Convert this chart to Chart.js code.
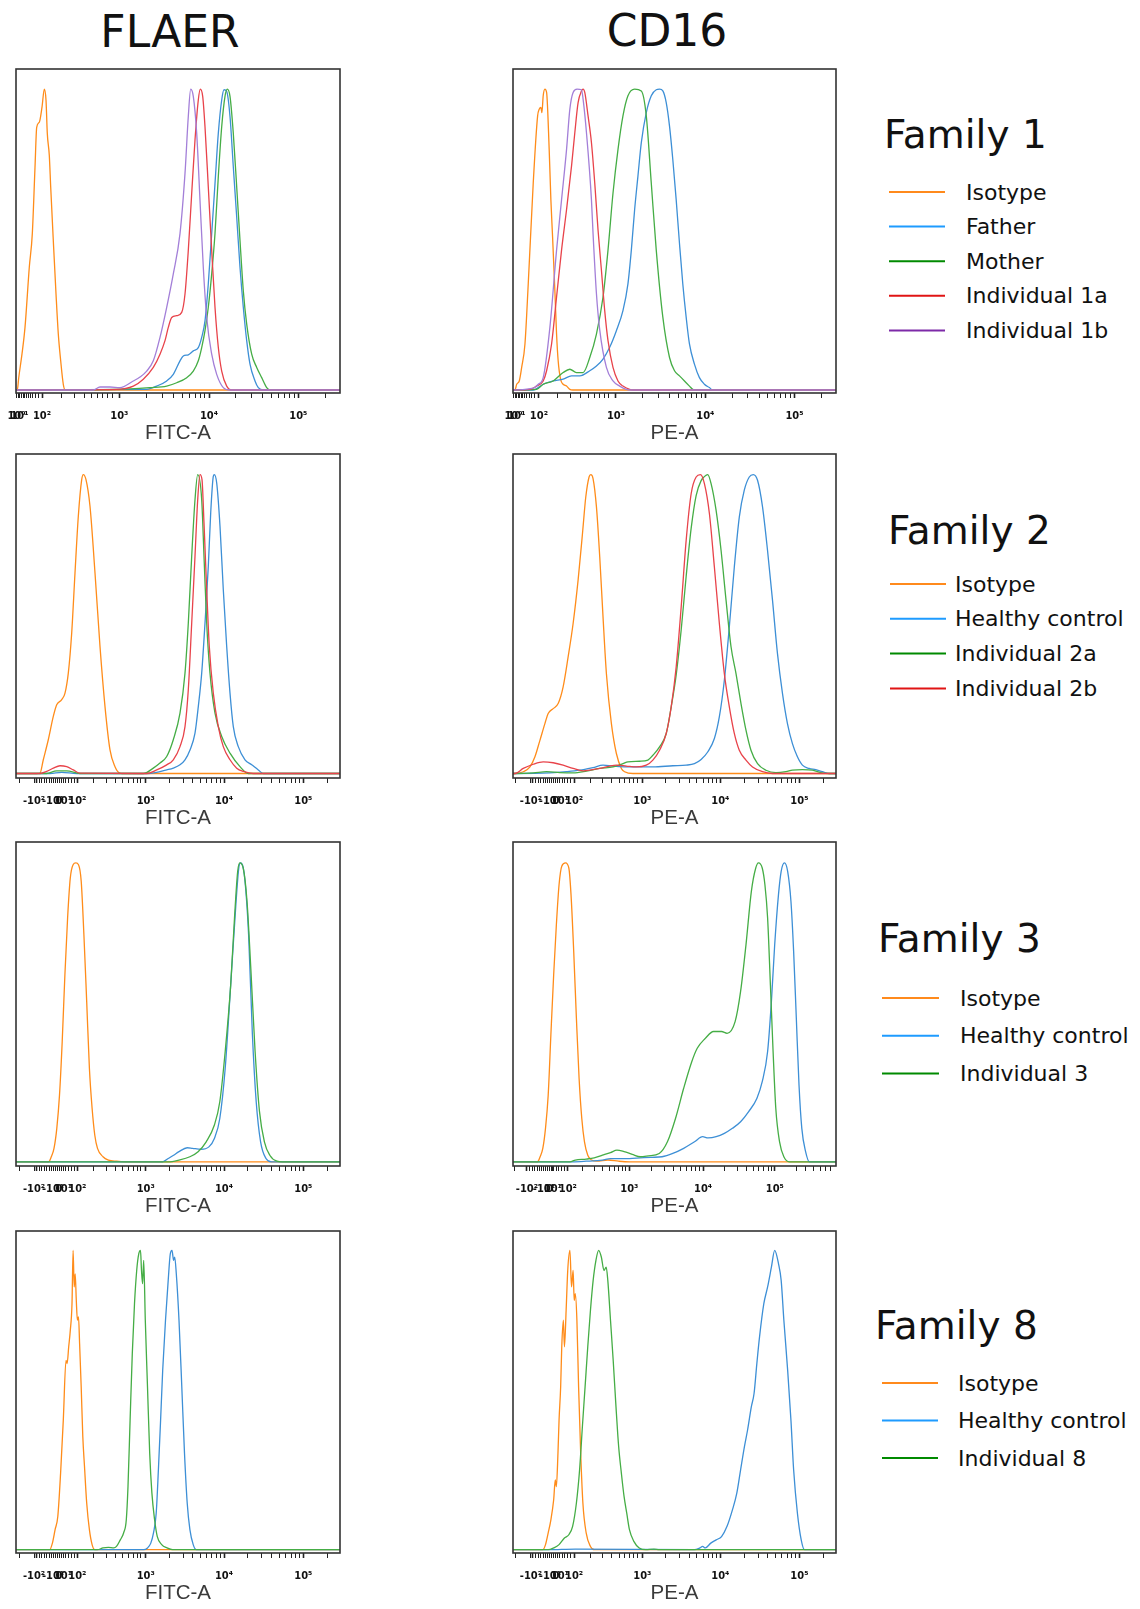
<!DOCTYPE html>
<html>
<head>
<meta charset="utf-8">
<script src="https://cdn.jsdelivr.net/npm/chart.js@4.4.1/dist/chart.umd.min.js"></script>
<style>
  html, body { margin: 0; padding: 0; background: #fff; }
  #page { position: relative; width: 1140px; height: 1609px; overflow: hidden; background: #fff; }
  #page canvas, #page svg { position: absolute; }
</style>
</head>
<body>
<div id="page"></div>
<script>
// Eje x: posición de visualización (canales 0..324 a lo largo de cada caja)
const AXIS_LEN = 324;

// ---- ticks de los ejes (fila 1)
const axisAMajor = [26, 103.3, 193, 282.3];
const axisAMinor = [2.5, 5.5, 7, 8.5, 10, 12, 14, 16.5, 19, 22, 45, 58, 68, 75.7, 81.7, 86.7, 91.3, 96,
  130.3, 146.1, 157.3, 166, 173.1, 179.1, 184.3, 188.9, 219.9, 235.6, 246.8, 255.4, 262.5, 268.5, 273.6, 278.2, 309.2];
const axisALabelPos = [0.5, 3.5, 26, 103.3, 193, 282.3];
const axisALabelText = ['10⁰', '10¹', '10²', '10³', '10⁴', '10⁵'];

// ---- ticks biexponenciales (filas 2-4)
const axisBMajor = [20, 61.3, 129.7, 208, 287.3];
const axisBMinor = [3, 23, 25.5, 28, 30.5, 33, 35, 37, 39, 41, 43, 45, 47, 49.5, 52, 55, 58,
  77.3, 90, 99, 106.7, 112.3, 117.3, 121.3, 124.7, 153.3, 167.1, 176.8, 184.4, 190.6, 195.9, 200.4, 204.4,
  231.9, 245.8, 255.7, 263.4, 269.7, 275, 279.6, 283.7, 311.2];
const axisBLabelPos = [18, 37, 43, 47, 61.3, 129.7, 208, 287.3];
const axisBLabelText = ['-10²', '-10¹', '0', '10¹', '10²', '10³', '10⁴', '10⁵'];

// ---- ticks del panel CD16 familia 3
const axisCMajor = [14, 55, 116.7, 190.7, 262.7];
const axisCMinor = [1.7, 17, 19.5, 22, 24.5, 27, 29, 31, 33, 35, 36.7, 38.5, 41, 43.5, 46, 49, 52,
  70, 81.7, 90, 96.7, 101.7, 106, 110, 113.3, 139, 152, 161.2, 168.4, 174.3, 179.2, 183.5, 187.3,
  212.4, 225.1, 234.1, 241, 246.7, 251.6, 255.8, 259.5, 284.4, 293.4, 301.7, 308.4, 313.4, 318.4];
const axisCLabelPos = [14, 31, 36.7, 40, 55, 116.7, 190.7, 262.7];
const axisCLabelText = ['-10²', '-10¹', '0', '10¹', '10²', '10³', '10⁴', '10⁵'];

// ---- nombres de series
const family1Names = ['Isotype', 'Father', 'Mother', 'Individual 1a', 'Individual 1b'];
const family2Names = ['Isotype', 'Healthy control', 'Individual 2a', 'Individual 2b'];
const family3Names = ['Isotype', 'Healthy control', 'Individual 3'];
const family8Names = ['Isotype', 'Healthy control', 'Individual 8'];
const familyTitles = ['Family 1', 'Family 2', 'Family 3', 'Family 8'];

// ---- histogramas: [posición en el eje, % del modo]
// Familia 1, FLAER
const fam1FlaerIsotype = [[0,0],[1.3,0],[2.7,4],[6,12],[9,20.8],[13.3,40.8],[16.3,51.9],[19,74],[20.7,87.3],[23.3,89],[26,94],[28.3,100],[30,96.4],[31.3,85.3],[33.3,78],[34.7,67.5],[37.3,49.7],[40,32],[42.3,18.6],[44.7,9.7],[47.3,1.9],[49.3,0],[324,0]];
const fam1FlaerFather = [[0,0],[130.7,0.2],[140.7,1.3],[150.7,3],[157.3,5.2],[164,9.7],[167.3,11.3],[172.3,11.7],[177.3,13],[182.3,14.1],[185.7,17.5],[189,23],[192.3,35.3],[195.7,52],[199,68.6],[202.3,85.3],[205.7,96.4],[208,99.8],[210.7,99.2],[214,90.9],[217.3,74.2],[220.7,57.5],[224,40.8],[227.3,27.5],[230.7,16.4],[234,8.6],[239,3],[242.3,0.8],[247.3,0],[324,0]];
const fam1FlaerMother = [[0,0],[100.7,0.2],[134,0.8],[150.7,1.3],[160.7,2.4],[170.7,4.1],[177.3,6.3],[182.3,9.7],[185.7,14.1],[189,19.7],[192.3,27.5],[195.7,38.6],[199,52],[202.3,70.9],[205.7,87.5],[209,97.6],[211.3,100],[214,97.6],[217.3,85.3],[220.7,67.5],[224,49.7],[227.3,33],[230.7,21.9],[235.7,11.9],[240.7,7.5],[245.7,4.1],[250.7,0.8],[254,0],[324,0]];
const fam1FlaerInd1a = [[0,0],[100.7,0.2],[117.3,1.3],[127.3,3.6],[137.3,7.5],[144,11.9],[149,16.4],[152.3,20.8],[155.7,24.1],[160.7,24.7],[165.7,25.8],[169,31.9],[172.3,46.4],[175.7,65.3],[179,83.1],[182.3,96.4],[184.3,100],[186.7,97.6],[189,87.5],[192.3,67.5],[195.7,46.4],[199,27.5],[202.3,14.2],[205.7,6.3],[210.7,1.3],[215.7,0],[324,0]];
const fam1FlaerInd1b = [[0,0],[77.3,0],[84,1],[94,1],[104,0.8],[117.3,3],[124,4.3],[130.7,6.3],[137.3,9.7],[144,17.5],[150.7,27.5],[157.3,38.6],[164,52],[169,72],[172.3,90.9],[174.7,100],[177.3,97.6],[180.7,85.3],[184,63],[187.3,40.8],[190.7,24.1],[195.7,11.9],[200.7,5.2],[207.3,0.8],[214,0],[324,0]];

// Familia 1, CD16
const fam1Cd16Isotype = [[0,0],[2,0],[3.7,1.9],[6.3,3],[8.7,7.5],[12,15.3],[15.3,35.3],[20.3,68.8],[24.7,91.1],[26.3,93.3],[28,93.9],[29,92.2],[30.3,97.8],[32,100],[33.7,98.9],[36.3,79.9],[38,63.2],[39.7,50.9],[42,33.1],[43.7,18.6],[45.3,9.7],[47.7,3.6],[50.3,1.9],[53.7,1.3],[57,0.2],[60,0],[324,0]];
const fam1Cd16Father = [[0,0],[20.3,0],[30.3,1.9],[40.3,3],[50.3,3.6],[58.7,4.7],[67,4.7],[77,6.4],[83.7,8],[90.3,10.3],[97,14.2],[103.7,19.7],[110.3,26.4],[115.3,35.3],[118.7,46.5],[122,59.9],[125.3,71],[128.7,82.2],[133.7,92.2],[138.7,97.8],[143.7,99.8],[147,100],[150.3,99.4],[153.7,95.5],[157,87.7],[160.3,76.6],[163.7,63.2],[167,48.7],[170.3,35.3],[173.7,24.2],[177,15.3],[182,8.6],[187,4.1],[192,1.9],[197,0.8],[200.3,0],[324,0]];
const fam1Cd16Mother = [[0,0],[23.7,0.2],[30.3,1.9],[40.3,3],[50.3,5.8],[57,6.9],[63.7,5.8],[70.3,5.8],[77,10.8],[83.7,18.6],[90.3,30.9],[95.3,46.5],[100.3,65.4],[105.3,79.9],[110.3,91.1],[115.3,97.8],[122,100],[128.7,99.4],[133.7,91.1],[138.7,68.8],[143.7,46.5],[150.3,24.2],[157,10.8],[162,6.4],[167,4.7],[172,3],[177,1.3],[180.3,0.2],[183,0],[324,0]];
const fam1Cd16Ind1a = [[0,0],[17,0.2],[23.7,1.3],[30.3,3],[33.7,6.4],[38.7,15.3],[43.7,30.9],[48.7,46.5],[53.7,59.9],[58.7,74.4],[62,85.5],[65.3,95.5],[68.7,99.4],[70.3,100],[72,98.9],[75.3,91.1],[78.7,82.2],[82,68.8],[85.3,53.2],[88.7,39.8],[92,26.4],[95.3,16.4],[100.3,7.5],[105.3,3],[110.3,1.3],[117,0.2],[120,0],[324,0]];
const fam1Cd16Ind1b = [[0,0],[20.3,0.6],[25.3,1.9],[30.3,4.1],[37,20.8],[43.7,46.5],[48.7,63.2],[53.7,79.9],[57,93.3],[60.3,98.9],[64.3,100],[68.7,99.8],[70.3,96.7],[73.7,85.5],[78.7,63.2],[80.3,52],[83.7,32],[87,20],[93.7,7.5],[100.3,3],[107,1.3],[113.7,0.2],[117,0],[324,0]];

// Familia 2, FLAER
const fam2FlaerIsotype = [[0,0],[20.7,0],[24,0.1],[27.3,4.6],[32.3,11.3],[37.3,19.1],[40.7,23],[45.7,24.7],[49,26.9],[52.3,33.6],[55.7,47],[59,67.1],[62.3,86],[65.7,98.3],[67.3,100],[70,98.3],[74,89.4],[79,67.1],[84,42.5],[89,22.4],[94,7.9],[99,2.3],[104,0.1],[106,0],[324,0]];
const fam2FlaerHealthy = [[0,0],[34,0],[45.7,0.4],[60.7,0],[130.7,0],[140.7,0.4],[150.7,1.2],[157.3,1.8],[164,2.9],[169,4.6],[174,7.9],[179,13.5],[182.3,22.4],[185.7,33.6],[189,50.3],[192.3,69.3],[194.7,87.2],[197.3,99.4],[198.3,100],[200.7,97.2],[204,82.7],[207.3,61.5],[210.7,42.5],[214,26.9],[217.3,15.7],[222.3,9],[229,4.6],[235.7,2.9],[242.3,1.2],[247.3,0],[324,0]];
const fam2FlaerInd2a = [[0,0],[30.7,0],[40.7,0.9],[50.7,0.9],[64,0],[127.3,0],[137.3,1.8],[144,3.5],[150.7,5.7],[157.3,11.3],[164,20.2],[169,33.6],[172.3,50.3],[175.7,72.7],[179,91.6],[181.7,100],[185.7,91.6],[188,72.7],[190.7,50.3],[194,33.6],[199,20.2],[205.7,12.4],[214,6.8],[224,2.3],[232.3,0],[324,0]];
const fam2FlaerInd2b = [[0,0],[24,0],[30.7,0.7],[37.3,1.8],[44,2.6],[50.7,2.3],[57.3,1.2],[64,0.1],[130.7,0],[140.7,1.2],[150.7,2.9],[157.3,4.6],[164,9],[169,15.7],[172.3,28],[175.7,50.3],[179,72.7],[181.7,91.6],[184,100],[186,98.3],[188,83.8],[190.7,61.5],[193.3,42.5],[197.3,26.9],[202.3,15.7],[207.3,9],[214,4.6],[220.7,1.8],[227.3,0.7],[237.3,0],[324,0]];

// Familia 2, CD16
const fam2Cd16Isotype = [[0,0],[2,0],[10.3,0.6],[17,2.2],[22,5.6],[27,11.1],[32,16.7],[35.3,20.1],[40.3,21.7],[45.3,23.4],[50.3,29],[55.3,39],[60.3,50.2],[65.3,64.7],[69.7,80.3],[73,92.5],[76.3,99.2],[78,100],[80.3,98.7],[83.7,89.2],[87,72.5],[90.3,52.4],[93.7,33.4],[98.7,16.7],[103.7,6.7],[108.7,1.7],[112,0.6],[120.3,0],[324,0]];
const fam2Cd16Healthy = [[0,0],[2,0],[37,0.2],[53.7,0.6],[67,1.1],[80.3,2],[90.3,2.8],[100.3,2.5],[120.3,2.2],[140.3,2.2],[160.3,2.6],[173.7,2.8],[182,3.3],[188.7,4.7],[195.3,7.2],[202,11.7],[207,19],[212,31.2],[217,49.1],[222,69.1],[227,85.8],[232,94.8],[237,99.2],[241,100],[245.3,98.1],[250.3,89.2],[255.3,74.7],[260.3,58],[265.3,40.1],[270.3,26.8],[275.3,16.7],[280.3,10],[285.3,5.6],[290.3,2.8],[297,1.7],[303.7,1.3],[310.3,0.6],[317,0],[324,0]];
const fam2Cd16Ind2a = [[0,0],[2,0],[20.3,0.2],[33.7,0.6],[47,0.3],[60.3,0.2],[73.7,0.8],[87,1.7],[100.3,2.2],[110.3,3.3],[115.3,3.9],[127,4.1],[135.3,4.5],[140.3,6.1],[147,8.9],[153.7,13.4],[158.7,22.3],[163.7,33],[168.7,48],[173.7,66],[178.7,82],[183.7,93],[188.7,98],[193.7,99.8],[195.3,100],[198.7,97],[203.7,88.1],[208.7,74.7],[213.7,58],[218.7,42.4],[223.7,33.4],[228.7,23.4],[233.7,14.5],[238.7,7.8],[245.3,3.3],[253.7,1.1],[263.7,0.3],[273.7,0.6],[280.3,1.1],[290.3,1.3],[300.3,1.1],[308.7,0.3],[317,0],[324,0]];
const fam2Cd16Ind2b = [[0,0],[2,0],[10.3,1.7],[20.3,3.1],[30.3,3.9],[40.3,3.6],[50.3,2.8],[60.3,1.7],[70.3,0.9],[77,1.1],[87,1.7],[97,2.5],[103.7,2.8],[113.7,2.5],[123.7,2.2],[133.7,2.8],[140.3,4.5],[147,7.8],[153.7,13.4],[158.7,22.3],[163.7,35.7],[168.7,55.7],[173.7,78],[178.7,93.6],[183.7,99.2],[188,100],[192,97],[197,87],[202,69.1],[207,50.2],[212,33.4],[217,22.3],[222,13.4],[227,7.8],[233.7,4.5],[240.3,2.2],[250.3,0.6],[260.3,0],[324,0]];

// Familia 3, FLAER
const fam3FlaerIsotype = [[0,0],[32.6,0],[35.3,1.7],[38,4.5],[40.8,11.2],[43.5,22.3],[46.2,40.2],[48.9,62.6],[51.6,81.6],[54.3,95],[57.1,99.4],[59.8,100],[62.5,99.4],[65.2,93.9],[67.9,76],[70.7,53.6],[73.4,31.3],[76.1,17.9],[78.8,8.9],[81.5,4.5],[87,1.7],[92.4,0.6],[100.5,0.2],[108.7,0],[324,0]];
const fam3FlaerHealthy = [[0,0],[146.7,0],[152.2,1.1],[157.6,2.2],[163,3.4],[171.2,4.7],[176.6,4.5],[184.8,4.2],[192.9,5],[198.4,7.8],[203.8,14.5],[209.2,31.3],[214.7,59.2],[220.1,87.2],[222.8,98.3],[224.5,100],[228.3,96.1],[232.6,76],[236.4,42.5],[240.2,20.1],[244.6,6.7],[250,1.1],[255.4,0],[324,0]];
const fam3FlaerInd3 = [[0,0],[152.2,0],[163,0.6],[173.9,1.7],[182.1,3.4],[190.2,6.7],[198.4,12.3],[203.8,20.1],[209.2,36.9],[214.7,59.2],[218.5,81.6],[221.7,97.2],[223.9,100],[227.2,98.3],[231,87.2],[234.8,64.8],[239.1,36.9],[243.5,16.8],[248.4,6.7],[253.8,2.2],[260.9,0.2],[266.3,0],[324,0]];

// Familia 3, CD16
const fam3Cd16Isotype = [[0,0],[24.5,0],[27.2,1.7],[29.9,4.5],[32.6,11.2],[35.3,22.3],[38,42.5],[40.8,62.6],[43.5,79.3],[46.2,92.7],[48.9,98.9],[52.7,100],[56,98.3],[58.2,89.4],[60.9,70.4],[63.6,48],[66.3,27.9],[69,14.5],[71.7,6.7],[75,2.2],[78.8,0.6],[84.2,0.2],[95.1,0.6],[106,0.2],[116.8,0],[324,0]];
const fam3Cd16Healthy = [[0,0],[59.8,0],[73.4,0.2],[89.7,0.6],[97.8,1.1],[106,1.1],[116.8,1.1],[127.7,1.3],[138.6,1.5],[149.5,1.7],[160.3,2.8],[171.2,4.5],[182.1,6.7],[190.2,8.4],[195.7,8],[203.8,8.4],[212,9.5],[220.1,11.2],[228.3,13.4],[236.4,16.8],[244.6,21.2],[250,26.8],[255.4,36.9],[259.2,53.6],[262.5,72.6],[266.3,89.4],[269,97.2],[272.3,100],[275.5,97.2],[278.8,87.2],[281.5,70.4],[284.2,48],[286.9,25.7],[289.7,11.2],[293.5,3.4],[297.3,0],[324,0]];
const fam3Cd16Ind3 = [[0,0],[57.1,0],[62.5,0.6],[73.4,0.9],[81.5,1.3],[89.7,2.2],[97.8,3.1],[104.3,3.9],[111.4,3.4],[119.6,2.5],[127.7,1.7],[135.9,2],[146.7,2.8],[154.9,6.7],[163,14.5],[171.2,24.6],[179.3,33.5],[184.8,38],[192.9,41.3],[201.1,43.6],[209.2,43.6],[214.7,43],[222.8,46.9],[228.3,57],[233.7,72.6],[239.1,90.5],[243.5,98.3],[246.2,100],[250,98.3],[252.7,92.7],[255.4,81.6],[258.2,59.2],[260.9,36.9],[263.6,17.9],[267.4,6.7],[271.7,1.7],[277.2,0],[324,0]];

// Familia 8, FLAER
const fam8FlaerIsotype = [[0,0],[33.7,0],[36.4,2.2],[39.1,6.7],[41.8,11.1],[44.6,25.6],[47.3,43.3],[50,63.3],[51.1,62.2],[52.7,67.8],[54.3,73.3],[56,82.2],[57.1,100],[58.2,87.8],[59.2,92.2],[60.3,83.3],[61.4,76.7],[62.5,77.8],[63.6,68.9],[65.2,54.4],[66.8,37.8],[68.5,27.8],[70.7,15.6],[73.4,6.7],[76.1,1.7],[78.8,0],[324,0]];
const fam8FlaerHealthy = [[0,0],[127.7,0],[131.5,0.6],[134.8,2.2],[137.5,5.6],[140.2,12.2],[142.4,26.7],[144.6,43.3],[146.7,60],[149.5,76.7],[152.2,90],[154.3,98.9],[156,100],[157.6,96.7],[158.7,97.8],[160.3,92.2],[163,76.7],[165.8,54.4],[168.5,32.2],[171.2,15.6],[173.9,6.7],[177.2,1.7],[180.4,0],[324,0]];
const fam8FlaerInd8 = [[0,0],[81.5,0],[87,0.6],[92.4,0.8],[97.8,0.6],[100.5,1.1],[104.3,3.3],[107.6,5.6],[110.3,10],[112,21.1],[114.1,43.3],[116.3,65.6],[118.5,82.2],[120.7,93.3],[122.8,98.9],[124.5,100],[125.5,93.3],[126.6,88.9],[127.7,96.7],[129.3,76.7],[131.5,54.4],[133.7,32.2],[135.9,18.9],[138.6,10],[141.3,4.4],[145.7,1.7],[151.1,0.6],[156.5,0],[324,0]];

// Familia 8, CD16
const fam8Cd16Isotype = [[0,0],[29.9,0],[32.6,1.7],[35.3,5.6],[38,10],[40.8,16.7],[42.4,23.3],[43.5,21.1],[45.1,32.2],[46.2,43.3],[47.8,54.4],[48.9,67.8],[50.5,76.7],[51.6,67.8],[53.3,80],[54.9,93.3],[57.1,100],[58.7,87.8],[60.3,93.3],[61.4,83.3],[62.5,85.6],[64.1,76.7],[65.8,54.4],[67.9,32.2],[70.1,15.6],[73.4,5.6],[77.7,1.1],[81.5,0],[324,0]];
const fam8Cd16Healthy = [[0,0],[35.3,0],[62.5,0.2],[182.1,0],[187.5,0.6],[190.2,1.1],[192.9,0.6],[198.4,2.2],[203.8,3.3],[209.2,4.4],[214.7,7.8],[220.1,13.3],[224.5,18.9],[228.3,26.7],[232.1,34.4],[235.3,40],[239.1,47.8],[241.8,52.2],[244.6,62.2],[247.3,71.1],[251.6,82.2],[255.4,87.8],[259.2,94.4],[262.5,100],[266.3,95.6],[269,90],[271.7,76.7],[275.5,60],[278.8,43.3],[281.5,26.7],[285.3,12.2],[289.1,3.3],[292.4,0],[324,0]];
const fam8Cd16Ind8 = [[0,0],[35.3,0],[40.8,0.6],[46.2,1.7],[51.6,3.9],[56,5],[59.8,7.8],[63.6,15.6],[66.8,26.7],[69.6,41.1],[72.3,54.4],[75,67.8],[77.7,80],[80.4,90],[83.2,96.7],[85.9,100],[88.6,97.8],[91.3,93.3],[93.5,94.4],[95.1,90],[97.8,76.7],[100.5,63.3],[103.3,47.8],[106,34.4],[108.7,25.6],[111.4,17.8],[114.1,12.2],[116.8,6.7],[121.2,2.8],[126.6,0.6],[133.2,0],[141.3,0.2],[146.7,0],[324,0]];

// colores: Isotype, control/padre, individuo/madre, 1a/2b, 1b
const lineColors = ['#ff8c1a', '#3d8fd6', '#45ad45', '#e8434a', '#a37fd8'];
const legendColors = ['#ff8a1c', '#1e9bff', '#008a00', '#e01414', '#7d2aa8'];

function makeAxis(major, minor, labelPos, labelText) {
  const all = Array.from(new Set([...major, ...minor, ...labelPos])).sort((a, b) => a - b);
  return {
    all, major,
    label: v => {
      const i = labelPos.findIndex(p => Math.abs(p - v) < 1e-6);
      return i >= 0 ? labelText[i] : '';
    }
  };
}
const axisA = makeAxis(axisAMajor, axisAMinor, axisALabelPos, axisALabelText);
const axisB = makeAxis(axisBMajor, axisBMinor, axisBLabelPos, axisBLabelText);
const axisC = makeAxis(axisCMajor, axisCMinor, axisCLabelPos, axisCLabelText);

const panels = [
  { x: 16,  y: 69,   w: 324, h: 324, ymin: -1.0, ymax: 106.7, axis: axisA, title: 'FITC-A', names: family1Names,
    curves: [fam1FlaerIsotype, fam1FlaerFather, fam1FlaerMother, fam1FlaerInd1a, fam1FlaerInd1b] },
  { x: 513, y: 69,   w: 323, h: 324, ymin: -1.0, ymax: 106.7, axis: axisA, title: 'PE-A', names: family1Names,
    curves: [fam1Cd16Isotype, fam1Cd16Father, fam1Cd16Mother, fam1Cd16Ind1a, fam1Cd16Ind1b] },
  { x: 16,  y: 454,  w: 324, h: 324, ymin: -1.5, ymax: 106.9, axis: axisB, title: 'FITC-A', names: family2Names,
    curves: [fam2FlaerIsotype, fam2FlaerHealthy, fam2FlaerInd2a, fam2FlaerInd2b] },
  { x: 513, y: 454,  w: 323, h: 324, ymin: -1.5, ymax: 106.9, axis: axisB, title: 'PE-A', names: family2Names,
    curves: [fam2Cd16Isotype, fam2Cd16Healthy, fam2Cd16Ind2a, fam2Cd16Ind2b] },
  { x: 16,  y: 842,  w: 324, h: 324, ymin: -1.4, ymax: 107, axis: axisB, title: 'FITC-A', names: family3Names,
    curves: [fam3FlaerIsotype, fam3FlaerHealthy, fam3FlaerInd3] },
  { x: 513, y: 842,  w: 323, h: 324, ymin: -1.4, ymax: 107, axis: axisC, title: 'PE-A', names: family3Names,
    curves: [fam3Cd16Isotype, fam3Cd16Healthy, fam3Cd16Ind3] },
  { x: 16,  y: 1231, w: 324, h: 322, ymin: -1.1, ymax: 106.5, axis: axisB, title: 'FITC-A', names: family8Names,
    curves: [fam8FlaerIsotype, fam8FlaerHealthy, fam8FlaerInd8] },
  { x: 513, y: 1231, w: 323, h: 322, ymin: -1.1, ymax: 106.5, axis: axisB, title: 'PE-A', names: family8Names,
    curves: [fam8Cd16Isotype, fam8Cd16Healthy, fam8Cd16Ind8] },
];

const legends = [
  { title: familyTitles[0], names: family1Names, titleX: 884, titleY: 148,  x1: 889, x2: 945, textX: 966, rowY: 192,  gap: 34.6 },
  { title: familyTitles[1], names: family2Names, titleX: 888, titleY: 543.5, x1: 890, x2: 946, textX: 955, rowY: 584,  gap: 34.8 },
  { title: familyTitles[2], names: family3Names, titleX: 878, titleY: 952,  x1: 882, x2: 939, textX: 960, rowY: 998,  gap: 37.8 },
  { title: familyTitles[3], names: family8Names, titleX: 875, titleY: 1339, x1: 882, x2: 938, textX: 958, rowY: 1383, gap: 37.5 },
];

const page = document.getElementById('page');

// Textos: títulos de columna y leyendas
const NS = 'http://www.w3.org/2000/svg';
const svg = document.createElementNS(NS, 'svg');
svg.setAttribute('width', 1140); svg.setAttribute('height', 1609);
svg.style.left = '0px'; svg.style.top = '0px';
function addText(x, y, txt, size, anchor) {
  const t = document.createElementNS(NS, 'text');
  t.setAttribute('x', x); t.setAttribute('y', y);
  t.setAttribute('font-family', '"DejaVu Sans", Verdana, sans-serif');
  t.setAttribute('font-size', size); t.setAttribute('fill', '#111');
  if (anchor) t.setAttribute('text-anchor', anchor);
  t.textContent = txt;
  svg.appendChild(t);
}
addText(170, 47, 'FLAER', 44, 'middle');
addText(667, 45.5, 'CD16', 44, 'middle');
legends.forEach(lg => {
  addText(lg.titleX, lg.titleY, lg.title, 39);
  lg.names.forEach((name, i) => {
    const y = lg.rowY + i * lg.gap;
    const l = document.createElementNS(NS, 'line');
    l.setAttribute('x1', lg.x1); l.setAttribute('x2', lg.x2);
    l.setAttribute('y1', y); l.setAttribute('y2', y);
    l.setAttribute('stroke', legendColors[i]); l.setAttribute('stroke-width', 2);
    svg.appendChild(l);
    addText(lg.textX, y + 7.5, name, 22);
  });
});
page.appendChild(svg);

// Marco de cada gráfico
const boxPlugin = {
  id: 'box',
  afterDatasetsDraw(chart) {
    const { ctx, chartArea: a } = chart;
    ctx.save();
    ctx.strokeStyle = '#333';
    ctx.lineWidth = 1.6;
    ctx.strokeRect(a.left, a.top, a.right - a.left, a.bottom - a.top);
    ctx.restore();
  }
};

const PAD = 28, PAD_TOP = 6, AXIS_H = 60;

panels.forEach(p => {
  const cv = document.createElement('canvas');
  cv.width = p.w + 2 * PAD;
  cv.height = PAD_TOP + p.h + AXIS_H;
  cv.style.left = (p.x - PAD) + 'px';
  cv.style.top = (p.y - PAD_TOP) + 'px';
  page.appendChild(cv);
  const n = p.curves.length;

  new Chart(cv, {
    type: 'line',
    data: {
      datasets: p.curves.map((c, i) => ({
        label: p.names[i],
        data: c.map(([x, y]) => ({ x, y })),
        borderColor: lineColors[i],
        borderWidth: 1.3,
        pointRadius: 0,
        fill: false,
        cubicInterpolationMode: 'monotone',
        order: n - i  // la última serie queda encima
      }))
    },
    options: {
      responsive: false,
      animation: false,
      devicePixelRatio: 1,
      layout: { padding: { left: PAD, right: PAD, top: PAD_TOP, bottom: 0 } },
      plugins: { legend: { display: false }, tooltip: { enabled: false } },
      scales: {
        x: {
          type: 'linear', min: 0, max: AXIS_LEN,
          afterFit: s => { s.height = AXIS_H; },
          afterBuildTicks: s => { s.ticks = p.axis.all.map(v => ({ value: v })); },
          grid: {
            drawOnChartArea: false, drawTicks: true, tickLength: 5,
            color: '#222', tickColor: '#222',
            tickWidth: c => (c.tick && p.axis.major.includes(c.tick.value)) ? 1.6 : 1
          },
          border: { display: false },
          ticks: {
            autoSkip: false, maxRotation: 0, minRotation: 0, padding: 12,
            color: '#111',
            font: { family: '"DejaVu Sans Condensed", "Liberation Sans Narrow", sans-serif', size: 11, weight: 'bold' },
            callback: v => p.axis.label(v)
          },
          title: {
            display: true, text: p.title, color: '#3a3a3a',
            font: { family: '"Liberation Sans", Arial, sans-serif', size: 20.5, lineHeight: 1.2 },
            padding: { top: 0, bottom: 7 }
          }
        },
        y: { display: false, min: p.ymin, max: p.ymax }
      }
    },
    plugins: [boxPlugin]
  });
});
</script>
</body>
</html>
